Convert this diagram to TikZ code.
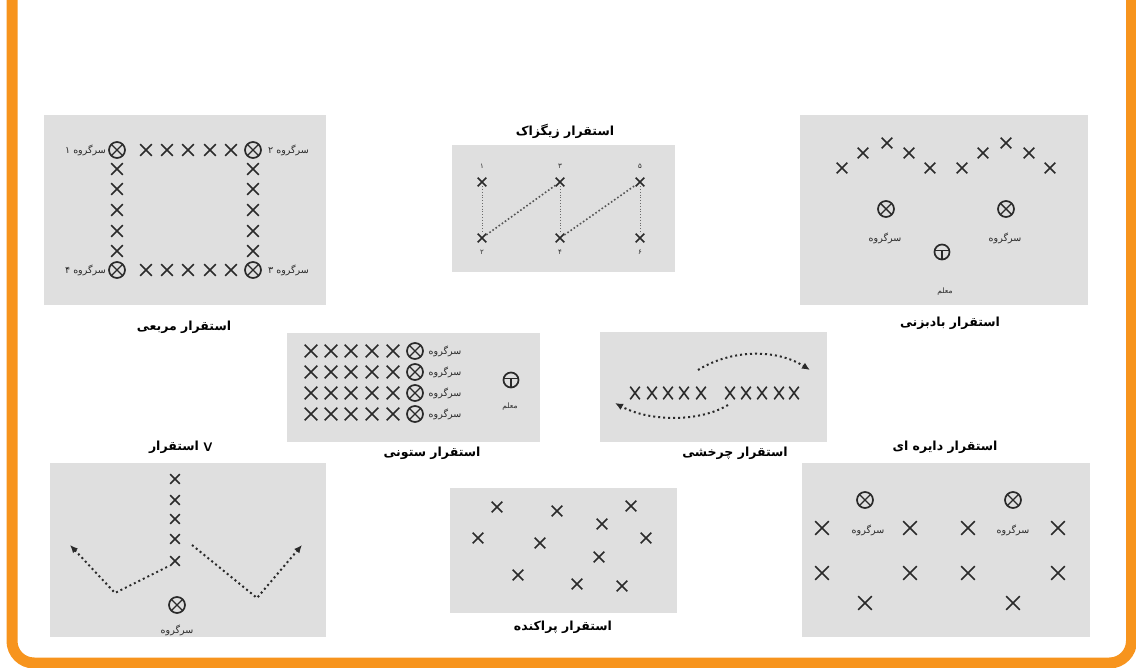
\documentclass[tikz,border=0pt]{standalone}
\usepackage{fontspec}
\newfontfamily\arabicfont[Script=Arabic]{DejaVu Sans}
\TeXXeTstate=1
\usetikzlibrary{shapes.misc,arrows.meta}
\definecolor{frameorange}{HTML}{F7941D}
\definecolor{panelgray}{HTML}{DFDFDF}
\definecolor{ink}{HTML}{2A2A2A}
\newcommand\pertext[1]{{\arabicfont\beginR #1\endR}}
\begin{document}
\begin{tikzpicture}[x=1pt,y=-1pt,
  panel/.style={fill=panelgray},
  title/.style={font=\arabicfont\bfseries\fontsize{12.5}{14}\selectfont, text=black, inner sep=0pt},
  lbl/.style={font=\arabicfont\fontsize{9.5}{11}\selectfont, text=ink, inner sep=0pt},
  small/.style={font=\arabicfont\fontsize{7.5}{9}\selectfont, text=ink, inner sep=0pt},
  num/.style={font=\arabicfont\fontsize{7}{8}\selectfont, text=ink, inner sep=0pt},
  xmark/.style={cross out, draw=ink, line width=1.6pt, minimum size=#1, inner sep=0pt},
  xmark/.default=10pt,
  leader/.style={circle, draw=ink, line width=1.7pt, minimum size=16pt, inner sep=0pt,
    path picture={\draw[ink, line width=1.4pt]
      (path picture bounding box.north west) -- (path picture bounding box.south east)
      (path picture bounding box.north east) -- (path picture bounding box.south west);}},
  teacher/.style={circle, draw=ink, line width=1.7pt, minimum size=15pt, inner sep=0pt,
    path picture={\draw[ink, line width=1.4pt]
      ([yshift=1.5pt]path picture bounding box.west) -- ([yshift=1.5pt]path picture bounding box.east)
      ([yshift=1.5pt]path picture bounding box.center) -- (path picture bounding box.south);}},
  dots/.style={draw=ink, line width=2pt, dash pattern=on 2pt off 3pt},
  finedots/.style={draw=ink!70, line width=0.9pt, dash pattern=on 0.8pt off 2pt},
  tip/.style={-{Latex[length=8pt,width=7pt]}}
]
\useasboundingbox (0,0) rectangle (1136,668);
\clip (0,0) rectangle (1136,668);
\fill[white] (0,0) rectangle (1136,668);

% ---------------- square ----------------
\fill[panel] (44,115) rectangle (326,305);
\node[leader] (sqTL) at (117,150) {};
\node[leader] (sqTR) at (253,150) {};
\node[leader] (sqBL) at (117,270) {};
\node[leader] (sqBR) at (253,270) {};
\foreach \x [count=\i] in {146,167,188,210,231}{
  \node[xmark] (sqT\i) at (\x,150) {};
  \node[xmark] (sqB\i) at (\x,270) {};
}
\foreach \y [count=\i] in {169,189,210,231,251}{
  \node[xmark] (sqL\i) at (117,\y) {};
  \node[xmark] (sqR\i) at (253,\y) {};
}
\node[lbl, anchor=east] (sqlTL) at (106,150) {\pertext{سرگروه ۱}};
\node[lbl, anchor=west] (sqlTR) at (268,150) {\pertext{سرگروه ۲}};
\node[lbl, anchor=east] (sqlBL) at (106,270) {\pertext{سرگروه ۴}};
\node[lbl, anchor=west] (sqlBR) at (268,270) {\pertext{سرگروه ۳}};
\node[title] (sqtitle) at (184,327) {\pertext{استقرار مربعی}};

% ---------------- zigzag ----------------
\fill[panel] (452,145) rectangle (675,272);
\node[title] (zztitle) at (565,131) {\pertext{استقرار زیگزاک}};
\node[xmark=7pt] (zt1) at (482,182) {};
\node[xmark=7pt] (zb1) at (482,238) {};
\node[xmark=7pt] (zt2) at (560,182) {};
\node[xmark=7pt] (zb2) at (560,238) {};
\node[xmark=7pt] (zt3) at (640,182) {};
\node[xmark=7pt] (zb3) at (640,238) {};
\node[num] (zn1) at (482,166) {۱};
\node[num] (zn3) at (560,166) {۳};
\node[num] (zn5) at (640,166) {۵};
\node[num] (zn2) at (482,252) {۲};
\node[num] (zn4) at (560,252) {۴};
\node[num] (zn6) at (640,252) {۶};
\draw[finedots] (zt1) -- (zb1);
\draw[finedots] (zt2) -- (zb2);
\draw[finedots] (zt3) -- (zb3);
\draw[dots, draw=ink!80, line width=1.6pt, dash pattern=on 1.6pt off 2.2pt] (zb1) -- (zt2);
\draw[dots, draw=ink!80, line width=1.6pt, dash pattern=on 1.6pt off 2.2pt] (zb2) -- (zt3);

% ---------------- fan ----------------
\fill[panel] (800,115) rectangle (1088,305);
\foreach \x/\y [count=\i] in {842/168,863/153,887/143,909/153,930/168,962/168,983/153,1006/143,1029/153,1050/168}{
  \node[xmark=9pt] (fx\i) at (\x,\y) {};
}
\node[leader] (fl1) at (886,209) {};
\node[leader] (fl2) at (1006,209) {};
\node[lbl] (fll1) at (885,238) {\pertext{سرگروه}};
\node[lbl] (fll2) at (1005,238) {\pertext{سرگروه}};
\node[teacher] (ft) at (942,252) {};
\node[small] (ftl) at (945,292) {\pertext{معلم}};
\node[title] (ftitle) at (950,323) {\pertext{استقرار بادبزنی}};

% ---------------- column ----------------
\fill[panel] (287,333) rectangle (540,442);
\foreach \y [count=\r] in {351,372,393,414}{
  \foreach \x [count=\c] in {311,331,351,372,393}{
    \node[xmark=11pt] (cx\r\c) at (\x,\y) {};
  }
  \node[leader] (cl\r) at (415,\y) {};
  \node[lbl] (cll\r) at (445,\y) {\pertext{سرگروه}};
}
\node[teacher] (ct) at (511,380) {};
\node[small] (ctl) at (510,407) {\pertext{معلم}};
\node[title] (ctitle) at (432,453) {\pertext{استقرار ستونی}};

% ---------------- rotational ----------------
\fill[panel] (600,332) rectangle (827,442);
\foreach \x [count=\i] in {635,652,668,684,701,730,746,762,779,794}{
  \node[xmark, minimum width=8pt, minimum height=11pt] (rx\i) at (\x,393) {};
}
\coordinate (ru1) at (698,370);
\coordinate (ru2) at (810,370);
\coordinate (rl1) at (728,405);
\coordinate (rl2) at (615,403);
\draw[dots, tip] (ru1) .. controls (730,350) and (775,348) .. (ru2);
\draw[dots, tip] (rl1) .. controls (700,422) and (650,422) .. (rl2);
\node[title] (rtitle) at (735,453) {\pertext{استقرار چرخشی}};

% ---------------- V ----------------
\fill[panel] (50,463) rectangle (326,637);
\node[title] (vtitle) at (174,447) {\pertext{استقرار}};
\node[title, font=\sffamily\bfseries\fontsize{12.5}{14}\selectfont, anchor=west] (vtitleV) at ([xshift=4pt]vtitle.east) {V};
\foreach \y [count=\i] in {479,500,519,539,561}{
  \node[xmark=8pt] (vx\i) at (175,\y) {};
}
\node[leader] (vl) at (177,605) {};
\node[lbl] (vll) at (177,630) {\pertext{سرگروه}};
\coordinate (vl0) at (167,567);
\coordinate (vl1) at (115,593);
\coordinate (vl2) at (70,545);
\coordinate (vr0) at (192,545);
\coordinate (vr1) at (257,598);
\coordinate (vr2) at (302,545);
\draw[dots, tip] (vl0) -- (vl1) -- (vl2);
\draw[dots, tip] (vr0) -- (vr1) -- (vr2);

% ---------------- scattered ----------------
\fill[panel] (450,488) rectangle (677,613);
\foreach \x/\y [count=\i] in {497/507,557/511,631/506,602/524,478/538,540/543,646/538,599/557,518/575,577/584,622/586}{
  \node[xmark=9pt] (px\i) at (\x,\y) {};
}
\node[title] (ptitle) at (563,627) {\pertext{استقرار پراکنده}};

% ---------------- circular ----------------
\fill[panel] (802,463) rectangle (1090,637);
\node[title] (otitle) at (945,447) {\pertext{استقرار دایره ای}};
\node[leader] (ol1) at (865,500) {};
\node[leader] (ol2) at (1013,500) {};
\node[lbl] (oll1) at (868,530) {\pertext{سرگروه}};
\node[lbl] (oll2) at (1013,530) {\pertext{سرگروه}};
\foreach \x/\y [count=\i] in {822/528,910/528,968/528,1058/528,822/573,910/573,968/573,1058/573,865/603,1013/603}{
  \node[xmark=12pt] (ox\i) at (\x,\y) {};
}

% ---------------- frame ----------------
\draw[frameorange, line width=11pt, rounded corners=22pt] (12,-40) -- (12,663) -- (1131.5,663) -- (1131.5,-40);
\end{tikzpicture}
\end{document}
